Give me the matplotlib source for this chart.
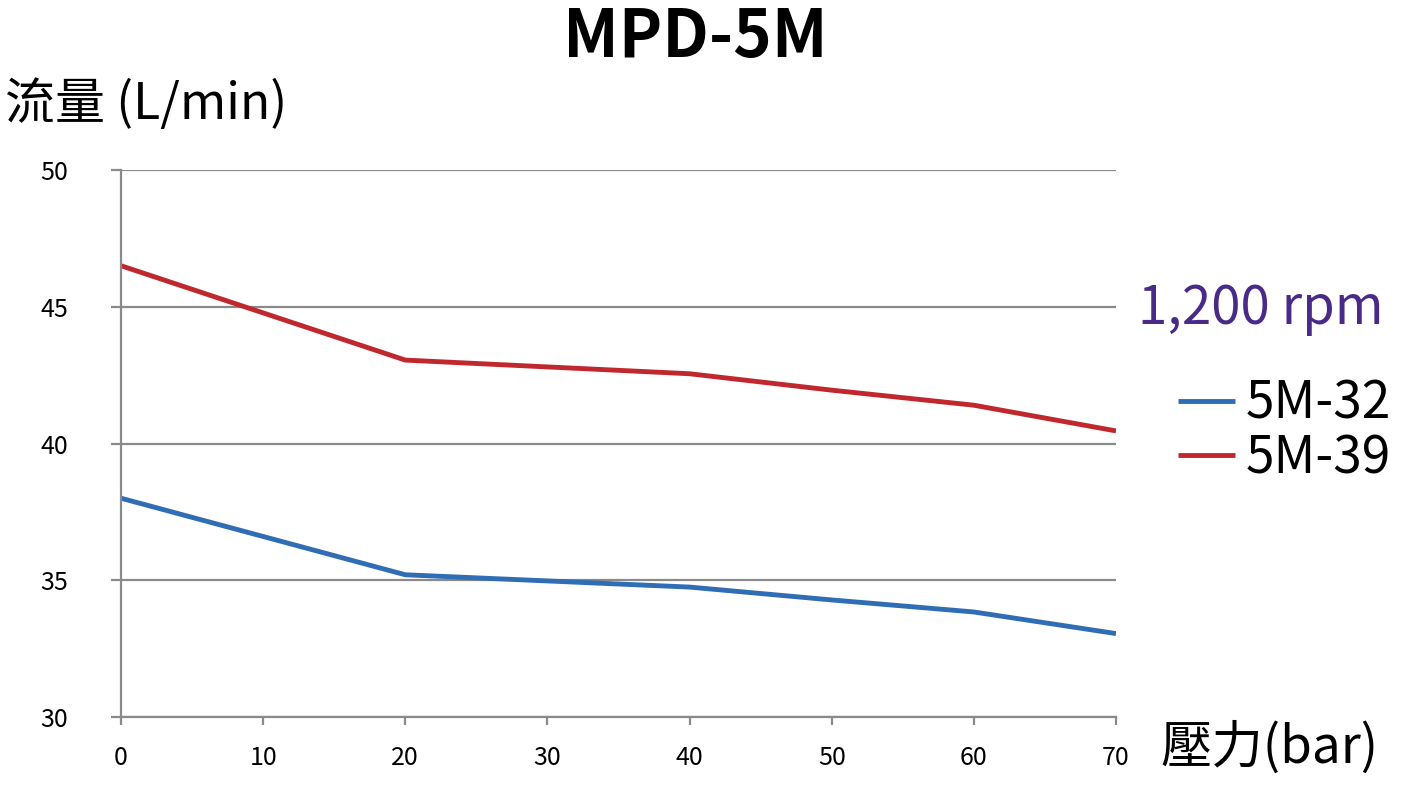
import matplotlib
matplotlib.use("Agg")
import matplotlib.pyplot as plt

plt.rcParams['font.family'] = ['Noto Sans CJK TC', 'DejaVu Sans']

# data
pressure = [0, 20, 40, 50, 60, 70]
flow_5m32 = [38.0, 35.2, 34.75, 34.28, 33.84, 33.05]
flow_5m39 = [46.5, 43.05, 42.55, 41.95, 41.4, 40.46]
series_names = ["5M-32", "5M-39"]
x_ticks = [0, 10, 20, 30, 40, 50, 60, 70]
y_ticks = [30, 35, 40, 45, 50]

grid_gray = "#8a8a8a"

fig = plt.figure(figsize=(14.2, 7.95), dpi=100)
ax = fig.add_axes([121 / 1420, 1 - 717 / 795, (1116 - 121) / 1420, (717 - 170) / 795])

l1, = ax.plot(pressure, flow_5m32, color="#2f6db5", lw=3.5, solid_capstyle="butt")
l2, = ax.plot(pressure, flow_5m39, color="#c0282d", lw=3.5, solid_capstyle="butt")

ax.set_xlim(0, 70)
ax.set_ylim(30, 50)
ax.set_xticks(x_ticks)
ax.set_yticks(y_ticks)
ax.yaxis.grid(True, color=grid_gray, lw=1.6)
ax.set_axisbelow(True)

for side in ["top", "right"]:
    ax.spines[side].set_visible(False)
for side in ["left", "bottom"]:
    ax.spines[side].set_color(grid_gray)
    ax.spines[side].set_linewidth(1.6)

ax.tick_params(axis="y", length=7, width=1.6, color=grid_gray, pad=31, labelsize=18)
ax.tick_params(axis="x", length=6, width=1.6, color=grid_gray, pad=14, labelsize=18)

# titles and axis labels
fig.text(695 / 1420, 1 - 38 / 795, "MPD-5M", ha="center", va="center",
         fontsize=47, fontweight="bold")
fig.text(5 / 1420, 1 - 105 / 795, "流量 (L/min)", ha="left", va="center", fontsize=36)
fig.text(1160 / 1420, 1 - 748 / 795, "壓力(bar)", ha="left", va="center", fontsize=37)
fig.text(1138 / 1420, 1 - 308 / 795, "1,200 rpm", ha="left", va="center",
         fontsize=38, color="#4a2a88")

leg = fig.legend([l1, l2], series_names, loc="upper left",
                 bbox_to_anchor=(1178 / 1420, 1 - 377 / 795),
                 frameon=False, fontsize=37, handlelength=1.1,
                 handletextpad=0.22, labelspacing=0.02, borderpad=0,
                 borderaxespad=0)

fig.savefig("out.png", dpi=100)
